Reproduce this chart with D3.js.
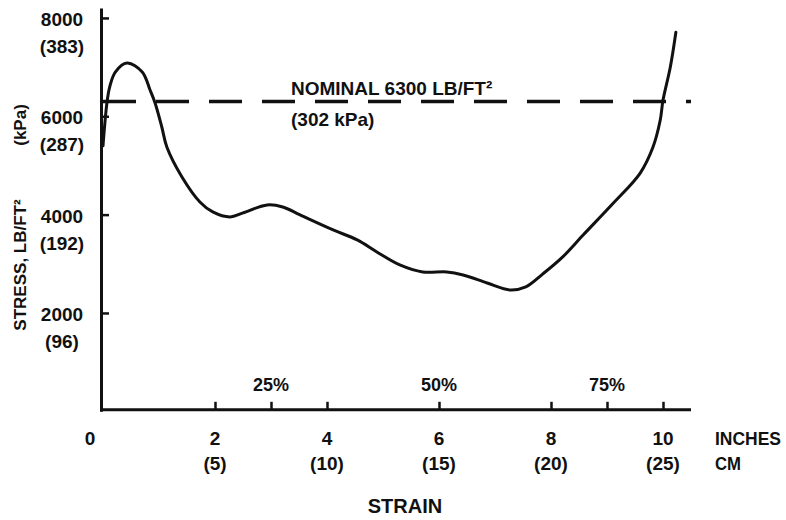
<!DOCTYPE html>
<html><head><meta charset="utf-8">
<script src="https://cdn.jsdelivr.net/npm/d3@7"></script>
<style>
html,body{margin:0;padding:0;background:#fff;}
svg{display:block;}
text{font-family:"Liberation Sans",Arial,sans-serif;font-weight:bold;fill:#111;}
</style></head>
<body>
<script>
// ---- data ----
const strainIn = [0, 0.07, 0.12, 0.22, 0.43, 0.70, 0.84, 0.93, 1.05, 1.14, 1.41, 1.73, 1.96, 2.27, 2.50, 2.93, 3.21, 3.52, 4.11, 4.54, 4.89, 5.30, 5.71, 6.14, 6.43, 6.86, 7.27, 7.55, 7.85, 8.20, 8.57, 9.11, 9.59, 9.82, 9.95, 10.00, 10.13, 10.23];
const stressLb = [5400, 6270, 6600, 6900, 7083, 6900, 6535, 6270, 5782, 5375, 4765, 4257, 4054, 3952, 4034, 4196, 4156, 3994, 3689, 3485, 3241, 2977, 2834, 2834, 2773, 2610, 2468, 2530, 2790, 3130, 3580, 4230, 4840, 5369, 5918, 6325, 6996, 7708];
const nominalStress = 6300;
const nominalLabel = "NOMINAL 6300 LB/FT²";
const nominalKpa = "(302 kPa)";
const yTicks = [2000, 4000, 6000, 8000];
const yTickKpa = ["(96)", "(192)", "(287)", "(383)"];
const xTickInches = [0, 2, 4, 6, 8, 10];
const xTickCm = ["", "(5)", "(10)", "(15)", "(20)", "(25)"];
const xMinorTicks = [2, 3, 4, 6, 8, 9, 10];
const pctTicks = [3, 6, 9];
const pctLabels = ["25%", "50%", "75%"];

const W = 786, H = 520;
const svg = d3.select("body").append("svg").attr("width", W).attr("height", H);

const x = d3.scaleLinear().domain([0, 10.5]).range([103, 691]);
const y = d3.scaleLinear().domain([0, 8200]).range([411.3, 8.1]);

// y axis
const yAxis = d3.axisRight(y).tickValues(yTicks).tickSize(8).tickSizeOuter(0).tickFormat("");
const gy = svg.append("g").attr("transform", "translate(101,0)").call(yAxis);
gy.select(".domain").attr("stroke", "#111").attr("stroke-width", 3);
gy.selectAll(".tick line").attr("stroke", "#111").attr("stroke-width", 2.5);

// x axis
const xAxis = d3.axisBottom(x).tickValues(xMinorTicks).tickSizeInner(-8).tickSizeOuter(0).tickFormat("");
const gx = svg.append("g").attr("transform", `translate(0,${y(0) - 1.5})`).call(xAxis);
gx.select(".domain").attr("stroke", "#111").attr("stroke-width", 3).attr("d", `M${x(0) - 3},0H${x(10.5)}`);
gx.selectAll(".tick line").attr("stroke", "#111").attr("stroke-width", 2.5);

// nominal dashed line
svg.append("line")
  .attr("x1", x(0)).attr("x2", x(10.5))
  .attr("y1", y(nominalStress)).attr("y2", y(nominalStress))
  .attr("stroke", "#111").attr("stroke-width", 3.5).attr("stroke-dasharray", "33,20");

// curve
const pts = strainIn.map((d, i) => [d, stressLb[i]]);
svg.append("path").datum(pts)
  .attr("fill", "none").attr("stroke", "#111").attr("stroke-width", 3).attr("stroke-linejoin", "round").attr("stroke-linecap", "round")
  .attr("d", d3.line().x(d => x(d[0])).y(d => y(d[1])).curve(d3.curveCatmullRom.alpha(0.5)));

// y tick labels
const fs = 19;
svg.selectAll(".ylab").data(yTicks).join("text")
  .attr("x", 62).attr("y", d => y(d) + 8).attr("text-anchor", "middle").attr("font-size", fs).text(d => d);
svg.selectAll(".ykpa").data(yTicks).join("text")
  .attr("x", 62).attr("y", d => y(d) + 35).attr("text-anchor", "middle").attr("font-size", fs).text((d, i) => yTickKpa[i]);

// y title
svg.append("text").attr("transform", "translate(26,265) rotate(-90)").attr("text-anchor", "middle").attr("font-size", 17).text("STRESS, LB/FT²");
svg.append("text").attr("transform", "translate(26,125) rotate(-90)").attr("text-anchor", "middle").attr("font-size", 17).text("(kPa)");

// x tick labels
svg.selectAll(".xin").data(xTickInches).join("text")
  .attr("x", d => d === 0 ? 90 : x(d)).attr("y", 445).attr("text-anchor", "middle").attr("font-size", fs).text(d => d);
svg.selectAll(".xcm").data(xTickInches).join("text")
  .attr("x", d => x(d)).attr("y", 470).attr("text-anchor", "middle").attr("font-size", fs).text((d, i) => xTickCm[i]);
svg.append("text").attr("x", 715).attr("y", 445).attr("font-size", 18)
  .attr("textLength", 66).attr("lengthAdjust", "spacingAndGlyphs").text("INCHES");
svg.append("text").attr("x", 715).attr("y", 470).attr("font-size", 18)
  .attr("textLength", 26).attr("lengthAdjust", "spacingAndGlyphs").text("CM");

// percent labels
svg.selectAll(".pct").data(pctTicks).join("text")
  .attr("x", d => x(d)).attr("y", 391).attr("text-anchor", "middle").attr("font-size", fs - 1).text((d, i) => pctLabels[i]);

// nominal labels
svg.append("text").attr("x", 291).attr("y", 95).attr("font-size", fs).text(nominalLabel);
svg.append("text").attr("x", 291).attr("y", 126).attr("font-size", fs).text(nominalKpa);

// x title
svg.append("text").attr("x", 405).attr("y", 513).attr("text-anchor", "middle").attr("font-size", 20).text("STRAIN");
</script>
</body></html>
